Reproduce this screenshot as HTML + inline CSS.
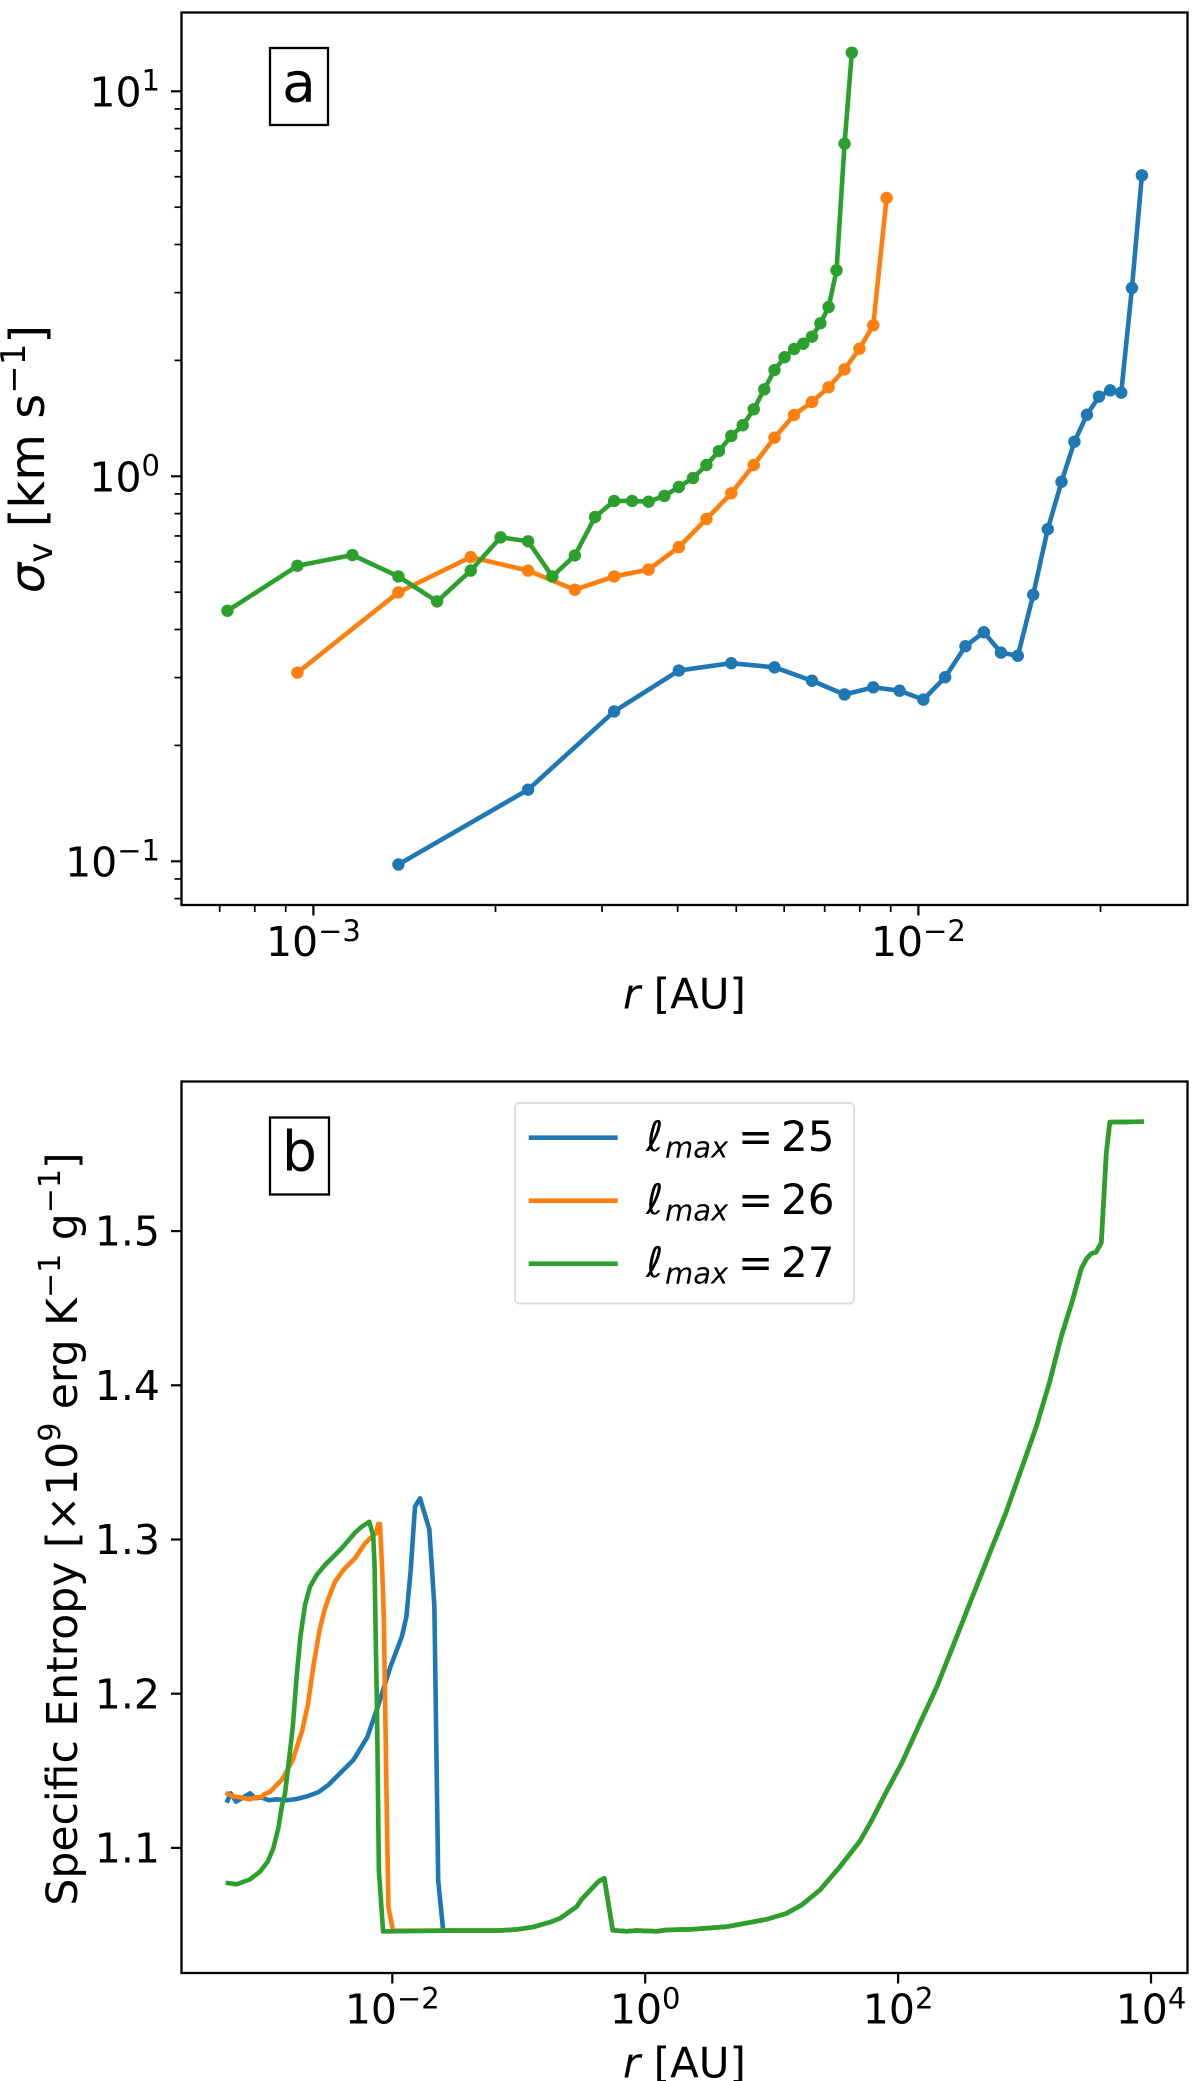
<!DOCTYPE html>
<html lang="en">
<head>
<meta charset="utf-8">
<title>Velocity dispersion and specific entropy profiles</title>
<style>
  html, body { margin: 0; padding: 0; background: #fff; }
  svg { display: block; }
  text { font-family: "DejaVu Sans", "Liberation Sans", sans-serif; fill: #000; }
</style>
</head>
<body>
<svg id="figure" xmlns="http://www.w3.org/2000/svg" width="1200" height="2081" viewBox="0 0 1200 2081">
  <rect x="0" y="0" width="1200" height="2081" fill="#fff"/>

  <g id="panel-a">
    <g id="a-series"></g>
    <rect x="181.5" y="12.5" width="1006" height="892.5" fill="none" stroke="#000" stroke-width="2.3"/>
    <g id="a-ticks"></g>
    <g>
      <rect x="270" y="48" width="58" height="77" fill="#fff" stroke="#000" stroke-width="2.3"/>
      <text x="299" y="101.5" font-size="55" text-anchor="middle">a</text>
    </g>
    <text x="684.5" y="1008.5" font-size="42" text-anchor="middle"><tspan font-style="italic">r</tspan> [AU]</text>
    <text transform="translate(44,459) rotate(-90)" font-size="48" text-anchor="middle"><tspan font-style="italic">σ</tspan><tspan font-size="34" dy="8">v</tspan><tspan dy="-8"> [km s</tspan><tspan font-size="34" dy="-19">−1</tspan><tspan dy="19">]</tspan></text>
  </g>

  <g id="panel-b">
    <g id="b-series"></g>
    <rect x="181.5" y="1081.5" width="1006" height="891.5" fill="none" stroke="#000" stroke-width="2.3"/>
    <g id="b-ticks"></g>
    <g>
      <rect x="270" y="1117.5" width="59" height="77" fill="#fff" stroke="#000" stroke-width="2.3"/>
      <text x="299.5" y="1170.5" font-size="55" text-anchor="middle">b</text>
    </g>
    <g>
      <rect x="515" y="1103" width="339" height="200.5" rx="4" ry="4" fill="#fff" stroke="#dedede" stroke-width="2"/>
      <g>
        <line x1="528.7" x2="617.7" y1="1137.7" y2="1137.7" stroke="#1f77b4" stroke-width="4.6"/>
        <text y="1151" font-size="42"><tspan x="646" font-style="italic">ℓ</tspan><tspan x="665" dy="6.5" font-size="29" font-style="italic">max</tspan><tspan x="738" dy="-6.5">=</tspan><tspan x="781">25</tspan></text>
      </g>
      <g>
        <line x1="528.7" x2="617.7" y1="1200.7" y2="1200.7" stroke="#ff7f0e" stroke-width="4.6"/>
        <text y="1214" font-size="42"><tspan x="646" font-style="italic">ℓ</tspan><tspan x="665" dy="6.5" font-size="29" font-style="italic">max</tspan><tspan x="738" dy="-6.5">=</tspan><tspan x="781">26</tspan></text>
      </g>
      <g>
        <line x1="528.7" x2="617.7" y1="1263.7" y2="1263.7" stroke="#2ca02c" stroke-width="4.6"/>
        <text y="1277" font-size="42"><tspan x="646" font-style="italic">ℓ</tspan><tspan x="665" dy="6.5" font-size="29" font-style="italic">max</tspan><tspan x="738" dy="-6.5">=</tspan><tspan x="781">27</tspan></text>
      </g>
    </g>
    <text x="684.5" y="2077.5" font-size="42" text-anchor="middle"><tspan font-style="italic">r</tspan> [AU]</text>
    <text transform="translate(77,1529) rotate(-90)" font-size="42.5" text-anchor="middle">Specific Entropy [×10<tspan font-size="30" dy="-17">9</tspan><tspan dy="17"> erg K</tspan><tspan font-size="30" dy="-17">−1</tspan><tspan dy="17"> g</tspan><tspan font-size="30" dy="-17">−1</tspan><tspan dy="17">]</tspan></text>
  </g>
</svg>

<script>
// ---------- Panel a: velocity dispersion vs radius ----------
const aTickExpX = [-3, -2];
const aTickExpY = [1, 0, -1];

const aR25 = [1.382e-3,2.264e-3,3.141e-3,4.018e-3,4.906e-3,5.783e-3,6.670e-3,7.55e-3,8.421e-3,9.31e-3,1.019e-2,1.107e-2,1.196e-2,1.283e-2,1.369e-2,1.460e-2,1.548e-2,1.636e-2,1.724e-2,1.811e-2,1.899e-2,1.988e-2,2.075e-2,2.164e-2,2.254e-2,2.341e-2];
const aSigma25 = [0.0981,0.1535,0.245,0.313,0.327,0.319,0.2944,0.2712,0.283,0.2774,0.263,0.3007,0.362,0.3935,0.3484,0.3418,0.4923,0.729,0.968,1.23,1.445,1.61,1.672,1.649,3.084,6.05];

const aR26 = [9.41e-4,1.382e-3,1.820e-3,2.264e-3,2.705e-3,3.141e-3,3.581e-3,4.018e-3,4.463e-3,4.906e-3,5.344e-3,5.783e-3,6.230e-3,6.670e-3,7.106e-3,7.55e-3,7.99e-3,8.421e-3,8.86e-3];
const aSigma26 = [0.309,0.4994,0.6167,0.5689,0.5075,0.5494,0.5723,0.6548,0.7746,0.9033,1.07,1.26,1.443,1.56,1.703,1.896,2.145,2.467,5.284];

const aR27 = [7.21e-4,9.41e-4,1.160e-3,1.382e-3,1.601e-3,1.820e-3,2.039e-3,2.264e-3,2.482e-3,2.705e-3,2.921e-3,3.141e-3,3.364e-3,3.581e-3,3.802e-3,4.018e-3,4.241e-3,4.463e-3,4.681e-3,4.906e-3,5.124e-3,5.344e-3,5.561e-3,5.783e-3,6.008e-3,6.230e-3,6.451e-3,6.670e-3,6.887e-3,7.106e-3,7.323e-3,7.55e-3,7.762e-3];
const aSigma27 = [0.4474,0.5855,0.6245,0.5494,0.4732,0.5689,0.694,0.678,0.5494,0.623,0.784,0.8629,0.8629,0.859,0.889,0.938,0.99,1.07,1.163,1.273,1.357,1.493,1.682,1.888,2.038,2.141,2.21,2.305,2.497,2.753,3.428,7.31,12.6];

// ---------- Panel b: specific entropy vs radius ----------
const bTickExpX = [-2, 0, 2, 4];
const bTickY = [1.1, 1.2, 1.3, 1.4, 1.5];

const bR25 = [4.90e-4,5.27e-4,5.81e-4,7.49e-4,8.21e-4,9.27e-4,1.059e-3,1.218e-3,1.461e-3,1.754e-3,2.166e-3,2.599e-3,3.119e-3,3.86e-3,4.92e-3,6.35e-3,7.83e-3,9.66e-3,1.189e-2,1.293e-2,1.398e-2,1.512e-2,1.656e-2,1.962e-2,2.07e-2,2.152e-2,2.307e-2,2.526e-2];
const bS25 = [1.1293,1.1354,1.13,1.1354,1.1322,1.1326,1.1309,1.1315,1.1309,1.1317,1.1337,1.1361,1.1408,1.1484,1.157,1.1719,1.1936,1.2174,1.2369,1.2499,1.2802,1.3213,1.3267,1.3066,1.2781,1.2564,1.0788,1.0463];

const bR26 = [4.81e-4,5.37e-4,6.44e-4,7.49e-4,8.47e-4,9.27e-4,9.67e-4,1.078e-3,1.218e-3,1.349e-3,1.478e-3,1.631e-3,1.942e-3,2.158e-3,2.394e-3,2.66e-3,2.91e-3,3.164e-3,3.523e-3,4.097e-3,5.07e-3,6.08e-3,6.87e-3,7.43e-3,7.75e-3,7.99e-3,8.34e-3,8.57e-3,9.00e-3,9.32e-3,1.013e-2];
const bS26 = [1.1358,1.1337,1.1326,1.1315,1.1328,1.1328,1.1348,1.1363,1.1408,1.1445,1.1505,1.157,1.1763,1.1936,1.2196,1.2412,1.2542,1.2629,1.2726,1.2802,1.2878,1.2975,1.3018,1.304,1.3101,1.3101,1.2781,1.2499,1.1351,1.0614,1.0463];

const bR27 = [4.81e-4,5.88e-4,7.49e-4,8.99e-4,1.034e-3,1.145e-3,1.254e-3,1.335e-3,1.417e-3,1.522e-3,1.633e-3,1.751e-3,1.876e-3,2.04e-3,2.234e-3,2.525e-3,2.936e-3,3.979e-3,5.07e-3,5.73e-3,6.58e-3,7.07e-3,7.24e-3,7.37e-3,7.57e-3,7.83e-3,8.46e-3];
const bS27 = [1.0774,1.0764,1.0796,1.0846,1.0911,1.0997,1.1127,1.1267,1.1351,1.1567,1.1784,1.2109,1.2369,1.2575,1.2694,1.277,1.2835,1.2943,1.3044,1.3083,1.3115,1.3023,1.2824,1.2434,1.1892,1.0853,1.0458];

// Outer envelope shared by all three runs.
const bTailR = [2.86e-2,0.0711,0.0963,0.1304,0.1767,0.2119,0.2873,0.3147,0.4257,0.4748,0.5534,0.714,0.8566,1.233,1.479,2.332,4.41,9.14,13.15,17.3,24.1,34.7,50.2,61.8,81.7,108,148,202,277,378,556,710,938,1239,1581,1950,2399,2816,3107,3402,3673,4046,4430,4722,8771];
const bTailS = [1.0464,1.0464,1.0471,1.0487,1.0518,1.0543,1.0619,1.0667,1.0781,1.0803,1.0466,1.0459,1.0464,1.0459,1.0468,1.0472,1.0489,1.0537,1.0576,1.063,1.0727,1.0878,1.1047,1.1178,1.1372,1.1557,1.1805,1.2043,1.2326,1.2608,1.2953,1.317,1.3451,1.3732,1.4023,1.4315,1.4553,1.4759,1.4824,1.4856,1.4863,1.4925,1.5505,1.5706,1.571];

const colorBlue = '#1f77b4';
const colorOrange = '#ff7f0e';
const colorGreen = '#2ca02c';

// ---------- Axis functions ----------
function xA(r) { return 313.4 + (Math.log10(r) + 3) * 605; }
function yA(s) { return 476.3 - Math.log10(s) * 385; }
function xB(r) { return 392.3 + (Math.log10(r) + 2) * 126.45; }
function yB(s) { return 1847.9 - (s - 1.1) * 1542; }

const NS = 'http://www.w3.org/2000/svg';
function make(tag, attrs, parent) {
  const el = document.createElementNS(NS, tag);
  for (const k in attrs) el.setAttribute(k, attrs[k]);
  parent.appendChild(el);
  return el;
}
function points(xs, ys, fx, fy) {
  return xs.map(function (v, i) { return fx(v).toFixed(2) + ',' + fy(ys[i]).toFixed(2); }).join(' ');
}
function powerLabel(parent, x, y, exp, supShift, anchor) {
  const t = make('text', { x: x, y: y, 'font-size': 41, 'text-anchor': anchor }, parent);
  const base = make('tspan', {}, t);
  base.textContent = '10';
  const sup = make('tspan', { 'font-size': 29, dy: supShift }, t);
  sup.textContent = String(exp).replace('-', '\u2212');
  return t;
}

const aSeries = document.getElementById('a-series');
const aTicks = document.getElementById('a-ticks');
const bSeries = document.getElementById('b-series');
const bTicks = document.getElementById('b-ticks');

// ---------- Panel a series ----------
function drawSeriesA(name, xs, ys, color) {
  const g = make('g', {}, aSeries);
  
  
  const line = make('polyline', { points: points(xs, ys, xA, yA), fill: 'none', stroke: color, 'stroke-width': 4.6, 'stroke-linejoin': 'round' }, g);
  
  
  xs.forEach(function (r, i) {
    const dot = make('circle', { cx: xA(r).toFixed(2), cy: yA(ys[i]).toFixed(2), r: 6.2, fill: color }, g);
    
    
  });
}
drawSeriesA('lmax-25', aR25, aSigma25, colorBlue);
drawSeriesA('lmax-26', aR26, aSigma26, colorOrange);
drawSeriesA('lmax-27', aR27, aSigma27, colorGreen);

// ---------- Panel a ticks ----------
aTickExpX.forEach(function (e) {
  const v = Math.pow(10, e);
  const tick = make('line', { x1: xA(v), x2: xA(v), y1: 905, y2: 915.5, stroke: '#000', 'stroke-width': 2.2 }, aTicks);
  
  
  const label = powerLabel(aTicks, xA(v), 956, e, -15, 'middle');
  
  
});
aTickExpY.forEach(function (e) {
  const v = Math.pow(10, e);
  const tick = make('line', { x1: 171, x2: 181.5, y1: yA(v), y2: yA(v), stroke: '#000', 'stroke-width': 2.2 }, aTicks);
  
  
  const label = powerLabel(aTicks, 160, yA(v) + 15, e, -16, 'end');
  
  
});
[-4, -3, -2].forEach(function (e) {
  for (let m = 2; m <= 9; m++) {
    const v = m * Math.pow(10, e);
    if (xA(v) < 181.5 || xA(v) > 1187.5) continue;
    const tick = make('line', { x1: xA(v), x2: xA(v), y1: 905, y2: 912, stroke: '#000', 'stroke-width': 1.7 }, aTicks);
    
    
  }
});
[-2, -1, 0, 1].forEach(function (e) {
  for (let m = 2; m <= 9; m++) {
    const v = m * Math.pow(10, e);
    if (yA(v) < 12.5 || yA(v) > 905) continue;
    const tick = make('line', { x1: 174.5, x2: 181.5, y1: yA(v), y2: yA(v), stroke: '#000', 'stroke-width': 1.7 }, aTicks);
    
    
  }
});

// ---------- Panel b series ----------
function drawSeriesB(name, xs, ys, color) {
  const line = make('polyline', { points: points(xs.concat(bTailR), ys.concat(bTailS), xB, yB), fill: 'none', stroke: color, 'stroke-width': 4.6, 'stroke-linejoin': 'round' }, bSeries);
  
  
}
drawSeriesB('lmax-25', bR25, bS25, colorBlue);
drawSeriesB('lmax-26', bR26, bS26, colorOrange);
drawSeriesB('lmax-27', bR27, bS27, colorGreen);

// ---------- Panel b ticks ----------
bTickExpX.forEach(function (e) {
  const v = Math.pow(10, e);
  const tick = make('line', { x1: xB(v), x2: xB(v), y1: 1973, y2: 1983.5, stroke: '#000', 'stroke-width': 2.2 }, bTicks);
  
  
  const label = powerLabel(bTicks, xB(v), 2023.5, e, -15, 'middle');
  
  
});
bTickY.forEach(function (v) {
  const tick = make('line', { x1: 171, x2: 181.5, y1: yB(v), y2: yB(v), stroke: '#000', 'stroke-width': 2.2 }, bTicks);
  
  
  const label = make('text', { x: 160, y: yB(v) + 14.6, 'font-size': 41, 'text-anchor': 'end' }, bTicks);
  label.textContent = v.toFixed(1);
  
  
});
</script>
</body>
</html>
